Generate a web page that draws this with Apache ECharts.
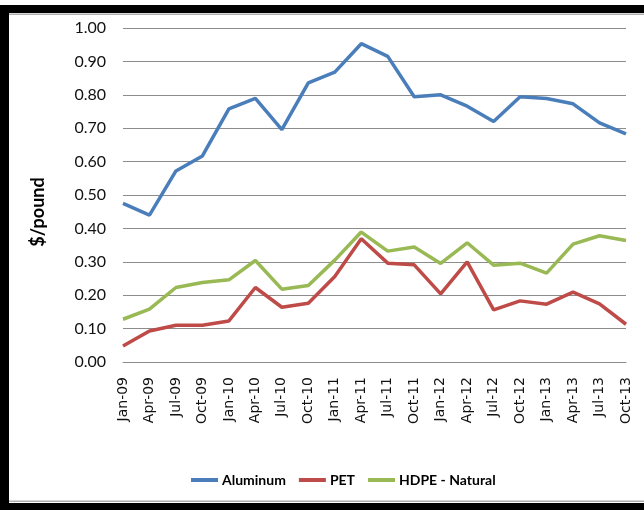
<!DOCTYPE html>
<html>
<head>
<meta charset="utf-8">
<script src="https://cdn.jsdelivr.net/npm/echarts@6/dist/echarts.min.js"></script>
<style>
html,body{margin:0;padding:0;background:#fff;}
#chart{width:644px;height:510px;}
</style>
</head>
<body>
<div id="chart"></div>
<script>
var categories = ['Jan-09','Apr-09','Jul-09','Oct-09','Jan-10','Apr-10','Jul-10','Oct-10','Jan-11','Apr-11','Jul-11','Oct-11','Jan-12','Apr-12','Jul-12','Oct-12','Jan-13','Apr-13','Jul-13','Oct-13'];
var aluminum = [0.475, 0.440, 0.572, 0.617, 0.758, 0.789, 0.696, 0.836, 0.868, 0.953, 0.915, 0.794, 0.800, 0.766, 0.720, 0.794, 0.789, 0.773, 0.716, 0.683];
var pet = [0.048, 0.093, 0.110, 0.110, 0.123, 0.223, 0.164, 0.176, 0.256, 0.369, 0.296, 0.291, 0.204, 0.300, 0.156, 0.183, 0.173, 0.209, 0.174, 0.113];
var hdpe = [0.128, 0.158, 0.223, 0.238, 0.246, 0.304, 0.218, 0.229, 0.305, 0.389, 0.332, 0.344, 0.295, 0.357, 0.290, 0.296, 0.266, 0.353, 0.378, 0.364];
var seriesNames = ['Aluminum', 'PET', 'HDPE - Natural'];
var yAxisTitle = '$/pound';

var calib = 'Lato, "Liberation Sans", sans-serif';
var chart = echarts.init(document.getElementById('chart'), null, {renderer: 'canvas'});
var option = {
  animation: false,
  backgroundColor: '#ffffff',
  color: ['#4a7ebb', '#be4b48', '#98b954'],
  grid: {left: 123, right: 18, top: 28, bottom: 148, containLabel: false},
  xAxis: {
    type: 'category',
    data: categories,
    boundaryGap: false,
    axisLine: {show: true, lineStyle: {color: '#8c8c8c', width: 1}},
    axisTick: {show: false},
    axisLabel: {rotate: 90, margin: 15, color: '#111', fontFamily: '"DejaVu Sans", Verdana, sans-serif', fontSize: 14, interval: 0},
    splitLine: {show: false}
  },
  yAxis: {
    type: 'value',
    min: 0, max: 1, interval: 0.1,
    axisLine: {show: false},
    axisTick: {show: false},
    axisLabel: {margin: 17, color: '#111', fontFamily: calib, fontSize: 16, formatter: function (v) { return v.toFixed(2); }},
    splitLine: {show: true, lineStyle: {color: '#8c8c8c', width: 1}}
  },
  legend: {
    left: 186, top: 468, padding: 5,
    itemWidth: 27, itemHeight: 4, itemGap: 13,
    icon: 'rect',
    textStyle: {fontFamily: calib, fontWeight: 'bold', fontSize: 14, color: '#000', padding: [0,0,0,-1]},
    data: seriesNames
  },
  graphic: [
    {type: 'rect', shape: {x: 0, y: 5, width: 644, height: 8}, style: {fill: '#000'}, z: 100},
    {type: 'rect', shape: {x: 0, y: 5, width: 9, height: 505}, style: {fill: '#000'}, z: 100},
    {type: 'rect', shape: {x: 0, y: 503, width: 644, height: 7}, style: {fill: '#000'}, z: 100},
    {type: 'rect', shape: {x: 9, y: 13.5, width: 635, height: 1.5}, style: {fill: '#b0b0b0'}, z: 100},
    {type: 'rect', shape: {x: 9, y: 500.5, width: 635, height: 1.5}, style: {fill: '#b0b0b0'}, z: 100},
    {type: 'text', x: 38, y: 212, rotation: Math.PI / 2, z: 100,
      style: {text: yAxisTitle, fontFamily: calib, fontWeight: 'bold', fontSize: 18, fill: '#000', align: 'center', verticalAlign: 'middle'}}
  ],
  series: [
    {name: seriesNames[0], type: 'line', data: aluminum, showSymbol: false, symbol: 'none', lineStyle: {width: 3.5}},
    {name: seriesNames[1], type: 'line', data: pet, showSymbol: false, symbol: 'none', lineStyle: {width: 3.5}},
    {name: seriesNames[2], type: 'line', data: hdpe, showSymbol: false, symbol: 'none', lineStyle: {width: 3.5}}
  ]
};
chart.setOption(option);
</script>
</body>
</html>
